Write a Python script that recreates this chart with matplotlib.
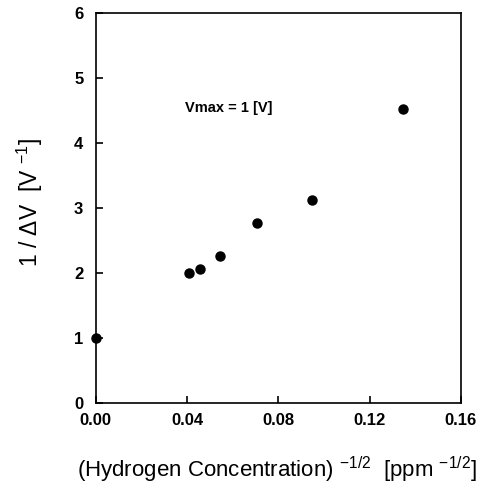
import matplotlib.pyplot as plt

plt.rcParams['font.family'] = ['Liberation Sans', 'DejaVu Sans']
plt.rcParams['mathtext.fontset'] = 'custom'
plt.rcParams['mathtext.rm'] = 'Liberation Sans'
plt.rcParams['mathtext.it'] = 'Liberation Sans'
plt.rcParams['mathtext.bf'] = 'Liberation Sans:bold'
plt.rcParams['axes.unicode_minus'] = False

# concentration^-1/2 and 1/dV
x_vals = [0.0, 0.041, 0.0458, 0.0546, 0.0707, 0.0946, 0.1345]
y_vals = [1.0, 2.0, 2.07, 2.27, 2.77, 3.13, 4.53]
x_ticks = [0.00, 0.04, 0.08, 0.12, 0.16]
y_ticks = [0, 1, 2, 3, 4, 5, 6]

fig = plt.figure(figsize=(4.84, 4.99), dpi=100)
ax = fig.add_axes([0.198, 0.192, 0.754, 0.781])

ax.plot(x_vals, y_vals, 'o', color='black', markersize=6.5, clip_on=False)

ax.set_xlim(0, 0.16)
ax.set_ylim(0, 6)
ax.set_xticks(x_ticks)
ax.set_xticklabels([f"{t:.2f}" for t in x_ticks])
ax.set_yticks(y_ticks)

ax.tick_params(direction='in', length=5, width=1.2, labelsize=12)
ax.tick_params(axis='x', pad=7)
ax.tick_params(axis='y', pad=9)
for lab in ax.get_xticklabels() + ax.get_yticklabels():
    lab.set_fontweight('bold')
for s in ax.spines.values():
    s.set_linewidth(1.2)

ax.text(0.039, 4.54, "Vmax = 1 [V]", fontsize=10.5, fontweight='bold', va='center')

ax.set_ylabel(r"1 / $\Delta$V  [V $^{-1}$]", fontsize=16.5)
ax.yaxis.set_label_coords(-0.14, 0.516)
fig.text(0.572, 0.058, r"(Hydrogen Concentration) $^{-1/2}$  [ppm $^{-1/2}$]",
         fontsize=16, ha='center', va='center')

fig.savefig("out.png", dpi=100)
